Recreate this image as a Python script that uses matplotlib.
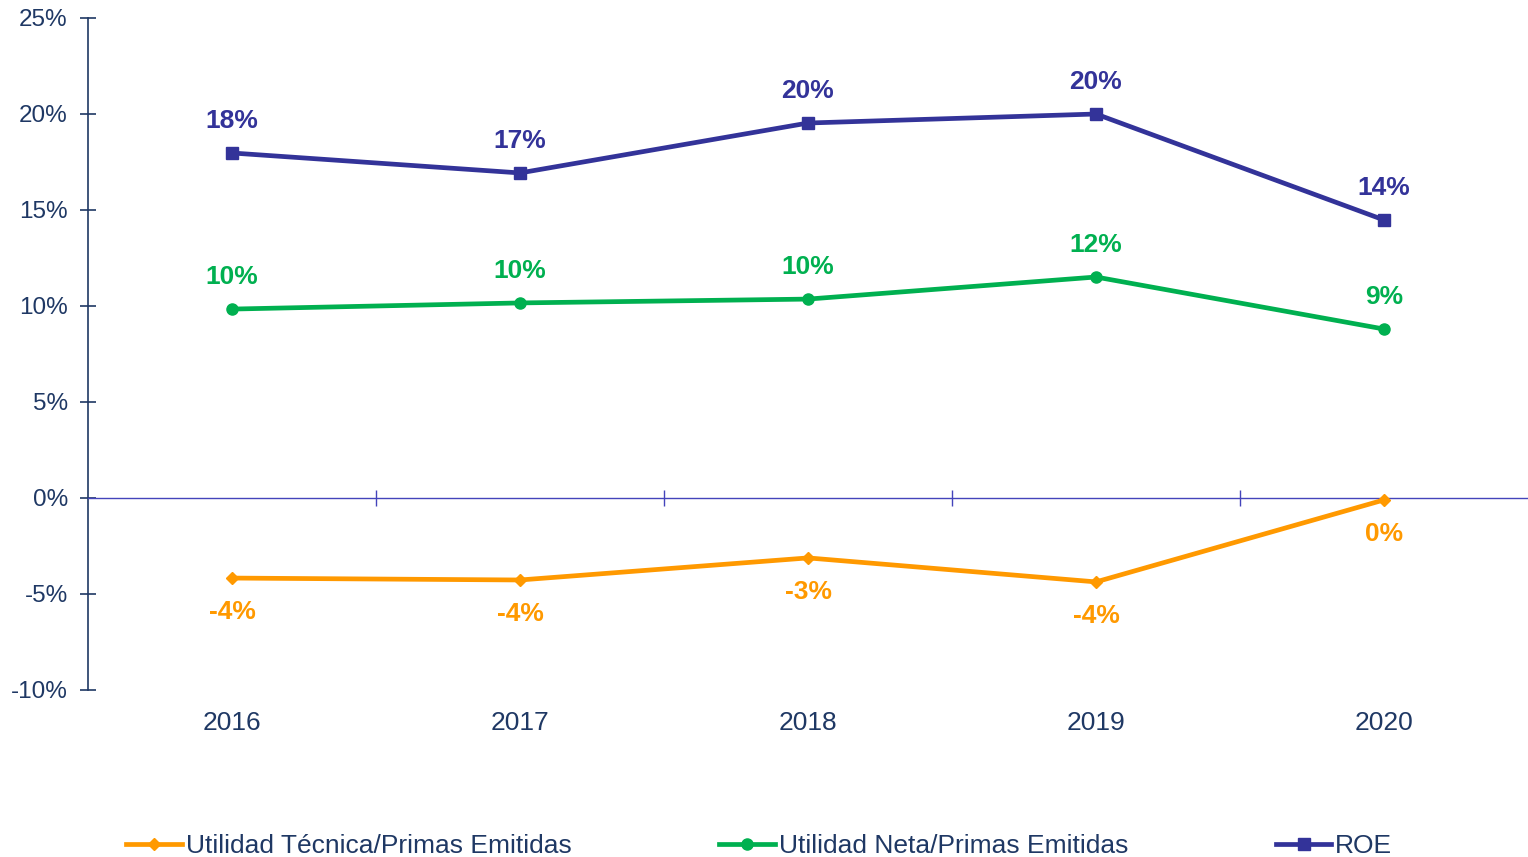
import matplotlib

matplotlib.use("Agg")
import matplotlib.pyplot as plt
from matplotlib.ticker import FuncFormatter, MultipleLocator

plt.rcParams["font.family"] = ["Liberation Sans", "DejaVu Sans"]

YEARS = ["2016", "2017", "2018", "2019", "2020"]
UTIL_TECNICA = [-4.17, -4.27, -3.12, -4.37, -0.1]
UTIL_NETA = [9.84, 10.16, 10.36, 11.51, 8.80]
ROE = [17.97, 16.93, 19.53, 20.0, 14.48]

LABELS_TECNICA = ["-4%", "-4%", "-3%", "-4%", "0%"]
LABELS_NETA = ["10%", "10%", "10%", "12%", "9%"]
LABELS_ROE = ["18%", "17%", "20%", "20%", "14%"]

ORANGE = "#FF9900"
GREEN = "#00B050"
NAVY = "#333399"
TEXT = "#1F3864"
ZERO = "#4444BB"

fig = plt.figure(figsize=(15.28, 8.57), dpi=100)
ax = fig.add_axes([88 / 1528, 1 - 690 / 857, 1 - 88 / 1528, (690 - 18) / 857])

x = list(range(len(YEARS)))
ax.plot(x, UTIL_TECNICA, color=ORANGE, lw=3.4, marker="D", ms=6.5,
        label="Utilidad Técnica/Primas Emitidas", zorder=3)
ax.plot(x, UTIL_NETA, color=GREEN, lw=3.4, marker="o", ms=8,
        label="Utilidad Neta/Primas Emitidas", zorder=3)
ax.plot(x, ROE, color=NAVY, lw=3.4, marker="s", ms=8.5,
        label="ROE", zorder=3)

# data labels
for xi, v, t in zip(x, ROE, LABELS_ROE):
    ax.annotate(t, (xi, v), xytext=(0, 23), textcoords="offset points",
                ha="center", va="center", color=NAVY, fontsize=19, fontweight="bold")
for xi, v, t in zip(x, UTIL_NETA, LABELS_NETA):
    ax.annotate(t, (xi, v), xytext=(0, 23), textcoords="offset points",
                ha="center", va="center", color=GREEN, fontsize=19, fontweight="bold")
for xi, v, t in zip(x, UTIL_TECNICA, LABELS_TECNICA):
    ax.annotate(t, (xi, v), xytext=(0, -24.5), textcoords="offset points",
                ha="center", va="center", color=ORANGE, fontsize=19, fontweight="bold")

ax.set_xlim(-0.5, len(YEARS) - 0.5)
ax.set_ylim(-10, 25)
ax.yaxis.set_major_locator(MultipleLocator(5))
ax.yaxis.set_major_formatter(FuncFormatter(lambda v, _: f"{v:.0f}%"))
ax.tick_params(axis="y", direction="inout", length=11, width=1.2, color=TEXT,
               labelsize=17.5, labelcolor=TEXT, pad=9)

# category axis crosses at 0, year labels stay at the bottom
ax.spines["bottom"].set_position(("data", 0))
ax.spines["bottom"].set_color(ZERO)
ax.spines["bottom"].set_linewidth(1)
for s in ("top", "right"):
    ax.spines[s].set_visible(False)
ax.spines["left"].set_color(TEXT)
ax.spines["left"].set_linewidth(1.2)
ax.set_xticks([i + 0.5 for i in x[:-1]])
ax.set_xticklabels([])
ax.tick_params(axis="x", direction="inout", length=12, width=1, color=ZERO)
for xi, yr in zip(x, YEARS):
    ax.annotate(yr, (xi, 0), xycoords=("data", "axes fraction"),
                xytext=(0, -24), textcoords="offset points",
                ha="center", va="center", fontsize=19, color=TEXT)

fig.legend(loc="center", bbox_to_anchor=(0.497, 1 - 846 / 857), ncol=3, frameon=False,
           fontsize=19, labelcolor=TEXT, handlelength=2.1, handletextpad=0.15,
           columnspacing=5.6)

fig.savefig("out.png", dpi=100)
